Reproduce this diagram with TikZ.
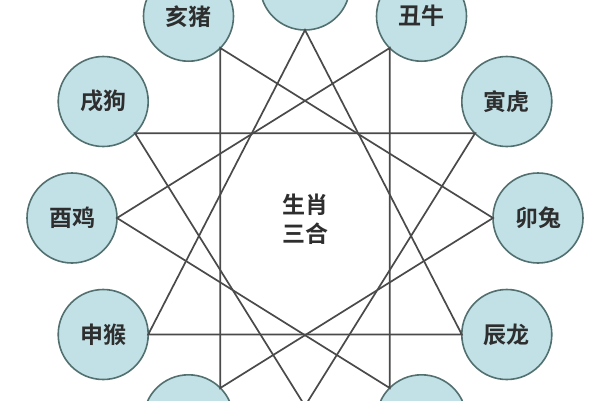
\documentclass[tikz,border=0pt]{standalone}
\usepackage{fontspec}
\newfontfamily\cjk{Noto Sans CJK SC}[BoldFont={Noto Sans CJK SC Bold}]
\definecolor{cfill}{HTML}{C2E1E7}
\definecolor{cborder}{HTML}{52706F}
\definecolor{lcol}{HTML}{4A4A4A}
\definecolor{tcol}{HTML}{2E2E2E}
\begin{document}
\begin{tikzpicture}[x=1pt,y=-1pt,
  zod/.style={circle, draw=cborder, line width=1.6pt, fill=cfill, minimum size=90pt, inner sep=0pt, outer sep=0pt,
    font=\cjk\bfseries\fontsize{23}{27}\selectfont, text=tcol},
  link/.style={draw=lcol, line width=1.7pt}]
\useasboundingbox (0,0) rectangle (600,400);
\clip (0,0) rectangle (600,400);
\fill[white] (0,0) rectangle (600,400);
% circles
\node[zod] (zi)   at (305,-15) {};
\node[zod] (chou) at (421.5,16.2) {丑牛};
\node[zod] (yin)  at (506.8,101.5) {寅虎};
\node[zod] (mao)  at (538,218) {卯兔};
\node[zod] (chen) at (506.8,334.5) {辰龙};
\node[zod] (si)   at (421.5,419.8) {};
\node[zod] (wu)   at (305,451) {};
\node[zod] (wei)  at (188.5,419.8) {};
\node[zod] (shen) at (103.2,334.5) {申猴};
\node[zod] (you)  at (72,218) {酉鸡};
\node[zod] (xu)   at (103.2,101.5) {戌狗};
\node[zod] (hai)  at (188.5,16.2) {亥猪};
% triangles
\draw[link] (zi.south) -- (shen.east) -- (chen.west) -- cycle;
\draw[link] (wu.north) -- (xu.-45) -- (yin.225) -- cycle;
\draw[link] (hai.-45) -- (mao.west) -- (wei.45) -- cycle;
\draw[link] (chou.225) -- (you.east) -- (si.135) -- cycle;
% centre
\node[font=\cjk\bfseries\fontsize{23}{29}\selectfont, text=tcol, align=center] (title) at (305,219) {生肖\\三合};
\end{tikzpicture}
\end{document}
